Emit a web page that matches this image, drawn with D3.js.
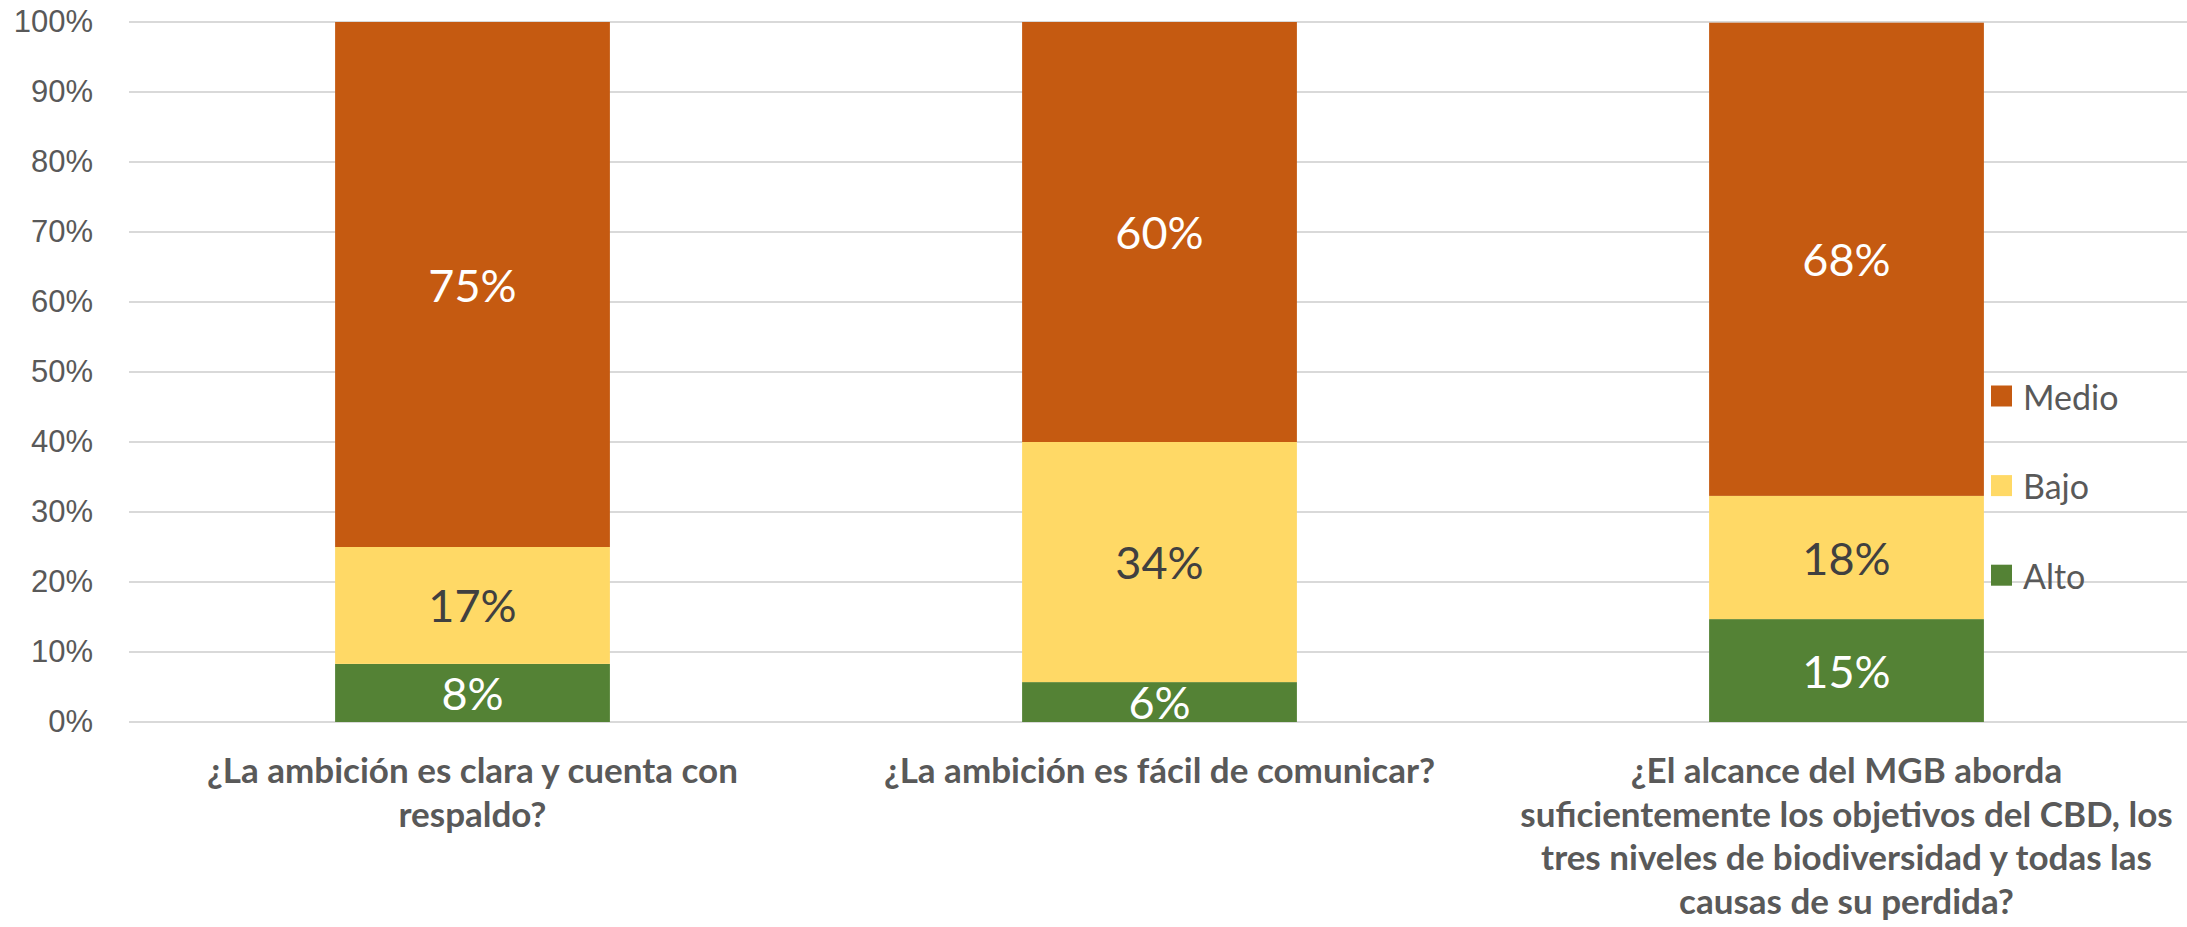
<!DOCTYPE html>
<meta charset="utf-8">
<style>
body { margin: 0; background: #fff; }
svg { display: block; font-family: Lato, "Open Sans", sans-serif; }
.grid line { stroke: #d9d9d9; stroke-width: 2px; }
.ytick { fill: #595959; font-size: 31px; }
.xlab { fill: #595959; font-size: 35px; font-weight: bold; }
.vlab { font-size: 45px; }
.legend text { fill: #595959; font-size: 34px; }
</style>
<svg width="2187" height="927"></svg>
<script src="https://cdn.jsdelivr.net/npm/d3@7"></script>
<script>

// categories, one entry per bar, already split into the lines shown under the axis
var categories = [
  ["¿La ambición es clara y cuenta con", "respaldo?"],
  ["¿La ambición es fácil de comunicar?"],
  ["¿El alcance del MGB aborda", "suficientemente los objetivos del CBD, los", "tres niveles de biodiversidad y todas las", "causas de su perdida?"]
];
var seriesNames = ["Alto", "Bajo", "Medio"];
var alto  = [8.3, 5.7, 14.7];
var bajo  = [16.7, 34.3, 17.6];
var medio = [75.0, 60.0, 67.6];
var yTicks = [0, 10, 20, 30, 40, 50, 60, 70, 80, 90, 100];

var colors = { Alto: "#548235", Bajo: "#ffd966", Medio: "#c55a11" };
var labelColors = { Alto: "#ffffff", Bajo: "#404040", Medio: "#ffffff" };

var svg = d3.select("svg"),
    width = +svg.attr("width"),
    height = +svg.attr("height");

var margin = { left: 129, right: -3, top: 22, bottom: 205 };

var rows = categories.map(function(c, i) {
  return { key: i, Alto: alto[i], Bajo: bajo[i], Medio: medio[i] };
});

var x = d3.scaleBand()
    .domain(d3.range(categories.length))
    .range([margin.left, width - margin.right])
    .paddingInner(0.6)
    .paddingOuter(0.3);

var y = d3.scaleLinear()
    .domain([0, 100])
    .range([height - margin.bottom, margin.top]);

// gridlines
svg.append("g")
    .attr("class", "grid")
  .selectAll("line")
  .data(yTicks)
  .enter().append("line")
    .attr("x1", margin.left)
    .attr("x2", width)
    .attr("y1", function(d) { return y(d); })
    .attr("y2", function(d) { return y(d); });

// y axis labels
var yAxis = d3.axisLeft(y)
    .tickValues(yTicks)
    .tickFormat(function(d) { return d + "%"; })
    .tickSize(0)
    .tickPadding(36);

svg.append("g")
    .attr("transform", "translate(" + margin.left + ",0)")
    .call(yAxis)
    .call(function(g) { g.select(".domain").remove(); })
    .selectAll("text")
      .attr("class", "ytick")
      .attr("font-family", null)
      .attr("font-size", null)
      .attr("fill", null);

var stacked = d3.stack().keys(seriesNames)(rows);

var layer = svg.append("g")
  .selectAll("g")
  .data(stacked)
  .enter().append("g")
    .attr("fill", function(d) { return colors[d.key]; });

layer.selectAll("rect")
  .data(function(d) { return d; })
  .enter().append("rect")
    .attr("x", function(d) { return x(d.data.key); })
    .attr("width", x.bandwidth())
    .attr("y", function(d) { return y(d[1]); })
    .attr("height", function(d) { return y(d[0]) - y(d[1]); });

// value labels in the middle of each segment
layer.each(function(s) {
  d3.select(this).selectAll("text")
    .data(s)
    .enter().append("text")
      .attr("class", "vlab")
      .attr("fill", labelColors[s.key])
      .attr("text-anchor", "middle")
      .attr("dominant-baseline", "central")
      .attr("x", function(d) { return x(d.data.key) + x.bandwidth() / 2; })
      .attr("y", function(d) { return (y(d[0]) + y(d[1])) / 2; })
      .text(function(d) { return Math.round(d[1] - d[0]) + "%"; });
});

// category labels
var xl = svg.append("g")
  .selectAll("text")
  .data(categories)
  .enter().append("text")
    .attr("class", "xlab")
    .attr("text-anchor", "middle")
    .attr("y", y(0) + 61);

xl.selectAll("tspan")
  .data(function(d, i) { return d.map(function(line) { return { line: line, i: i }; }); })
  .enter().append("tspan")
    .attr("x", function(d) { return x(d.i) + x.bandwidth() / 2; })
    .attr("dy", function(d, j) { return j ? 43.5 : 0; })
    .text(function(d) { return d.line; });

// legend, top entry is the last series
var legend = svg.append("g")
    .attr("class", "legend")
    .attr("transform", "translate(1991,396)");

var item = legend.selectAll("g")
  .data(seriesNames.slice().reverse())
  .enter().append("g")
    .attr("transform", function(d, i) { return "translate(0," + (i * 89.6) + ")"; });

item.append("rect")
    .attr("y", -10.5)
    .attr("width", 21)
    .attr("height", 21)
    .attr("fill", function(d) { return colors[d]; });

item.append("text")
    .attr("x", 32)
    .attr("dominant-baseline", "central")
    .text(function(d) { return d; });

</script>
